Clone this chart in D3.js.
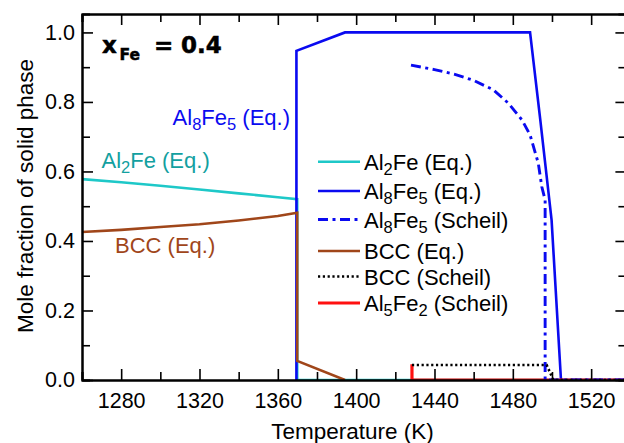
<!DOCTYPE html>
<html>
<head>
<meta charset="utf-8">
<script src="https://cdn.jsdelivr.net/npm/d3@7"></script>
<style>
  body { margin: 0; background: #fff; }
  svg { display: block; }
</style>
</head>
<body>
<div id="chart"></div>
<script>
const width = 624;
const height = 443;
const margin = { left: 82, right: -2.4, top: 14, bottom: 63 };

// temperature (K) and mole fraction for every curve
const al2feEqT = [1260, 1280, 1300, 1320, 1340, 1360, 1369.9, 1369.9, 1538];
const al2feEqF = [0.578, 0.569, 0.559, 0.548, 0.537, 0.526, 0.52, 0, 0];

const al8fe5EqT = [1369.5, 1369.5, 1394.3, 1488.8, 1494, 1499.8, 1504.6, 1538];
const al8fe5EqF = [0, 0.947, 1.0, 1.0, 0.75, 0.46, 0, 0];

const al8fe5ScheilT = [1428, 1440, 1450, 1460, 1470, 1477.6, 1484.7, 1488.8, 1493, 1494.8, 1496.5, 1496.5, 1538];
const al8fe5ScheilF = [0.906, 0.893, 0.88, 0.862, 0.835, 0.797, 0.748, 0.705, 0.624, 0.556, 0.518, 0, 0];

const bccEqT = [1260, 1280, 1300, 1320, 1340, 1360, 1369.9, 1369.9, 1394.3];
const bccEqF = [0.426, 0.432, 0.44, 0.448, 0.459, 0.472, 0.481, 0.055, 0];

const bccScheilT = [1428.5, 1497.3, 1500.7, 1538];
const bccScheilF = [0.043, 0.043, 0, 0];

const al5fe2ScheilT = [1428.5, 1428.5, 1538];
const al5fe2ScheilF = [0.045, 0, 0];

const xTicks = [1280, 1320, 1360, 1400, 1440, 1480, 1520];
const xMinorTicks = [1260, 1300, 1340, 1380, 1420, 1460, 1500];
const yTicks = [0.0, 0.2, 0.4, 0.6, 0.8, 1.0];
const yMinorTicks = [0.1, 0.3, 0.5, 0.7, 0.9];

const legendNames = [
  "Al_2Fe (Eq.)",
  "Al_8Fe_5 (Eq.)",
  "Al_8Fe_5 (Scheil)",
  "BCC (Eq.)",
  "BCC (Scheil)",
  "Al_5Fe_2 (Scheil)",
];

const cyan = "#1ec8c8";
const blue = "#0a0af0";
const brown = "#a0461a";
const red = "#ff1010";

const series = [
  { t: al2feEqT, f: al2feEqF, color: cyan, dash: null, legend: 0 },
  { t: al8fe5EqT, f: al8fe5EqF, color: blue, dash: null, legend: 1 },
  { t: al5fe2ScheilT, f: al5fe2ScheilF, color: red, dash: null, legend: 5, w: 3.2 },
  { t: bccEqT, f: bccEqF, color: brown, dash: null, legend: 3 },
  { t: al8fe5ScheilT, f: al8fe5ScheilF, color: blue, dash: "10,4.5,3,4.5", legend: 2, w: 2.9 },
  { t: bccScheilT, f: bccScheilF, color: "#000", dash: "2.2,2.6", legend: 4 },
];

const fontFamily = "'Liberation Sans', Arial, Helvetica, sans-serif";

// write "Al_8Fe_5" style strings with subscripts
const richText = (sel, str, size) => {
  const parts = str.split(/_(\d)/);
  const sub = size * 0.75;
  const shift = size * 0.24;
  let down = false;
  parts.forEach((p, i) => {
    if (p === "") return;
    const isSub = i % 2 === 1;
    const ts = sel.append("tspan").text(p);
    if (isSub) {
      ts.attr("font-size", sub);
      if (!down) ts.attr("dy", shift);
      down = true;
    } else {
      ts.attr("font-size", size);
      if (down) ts.attr("dy", -shift);
      down = false;
    }
  });
};

const svg = d3
  .select("#chart")
  .append("svg")
  .attr("width", width)
  .attr("height", height)
  .style("font-family", fontFamily);

const x = d3
  .scaleLinear()
  .domain([1260, 1538])
  .range([margin.left, width - margin.right]);

const y = d3
  .scaleLinear()
  .domain([0, 1.053])
  .range([height - margin.bottom, margin.top]);

svg
  .append("defs")
  .append("clipPath")
  .attr("id", "plot-clip")
  .append("rect")
  .attr("x", margin.left)
  .attr("y", margin.top)
  .attr("width", width - margin.right - margin.left)
  .attr("height", height - margin.bottom - margin.top);

const lineGen = d3
  .line()
  .x((d) => x(d[0]))
  .y((d) => y(d[1]));

const linesG = svg.append("g").attr("clip-path", "url(#plot-clip)");

linesG
  .selectAll("path")
  .data(series)
  .join("path")
  .attr("d", (s) => lineGen(s.t.map((t, i) => [t, s.f[i]])))
  .attr("fill", "none")
  .attr("stroke", (s) => s.color)
  .attr("stroke-width", (s) => s.w || 2.6)
  .attr("stroke-dasharray", (s) => s.dash)
  .attr("stroke-linejoin", "miter");

// axes, ticks pointing inwards
const styleAxis = (g) => {
  g.attr("font-family", fontFamily).attr("font-size", 21.5);
  g.select(".domain").attr("stroke", "#000").attr("stroke-width", 2);
  g.selectAll(".tick line").attr("stroke", "#000").attr("stroke-width", 1.6);
  g.selectAll(".tick text").attr("fill", "#000");
};

const bottomY = height - margin.bottom;
const rightX = width - margin.right;

svg
  .append("g")
  .attr("transform", `translate(0,${bottomY})`)
  .call(d3.axisBottom(x).tickValues(xMinorTicks).tickSize(-8).tickFormat(""))
  .call(styleAxis);
svg
  .append("g")
  .attr("transform", `translate(0,${bottomY})`)
  .call(d3.axisBottom(x).tickValues(xTicks).tickSize(-11).tickSizeOuter(0).tickPadding(13).tickFormat(d3.format("d")))
  .call(styleAxis);

svg
  .append("g")
  .attr("transform", `translate(0,${margin.top})`)
  .call(d3.axisTop(x).tickValues(xMinorTicks).tickSize(-8).tickFormat(""))
  .call(styleAxis);
svg
  .append("g")
  .attr("transform", `translate(0,${margin.top})`)
  .call(d3.axisTop(x).tickValues(xTicks).tickSize(-11).tickSizeOuter(0).tickFormat(""))
  .call(styleAxis);

svg
  .append("g")
  .attr("transform", `translate(${margin.left},0)`)
  .call(d3.axisLeft(y).tickValues(yMinorTicks).tickSize(-8).tickFormat(""))
  .call(styleAxis);
svg
  .append("g")
  .attr("transform", `translate(${margin.left},0)`)
  .call(d3.axisLeft(y).tickValues(yTicks).tickSize(-11).tickSizeOuter(0).tickPadding(7).tickFormat(d3.format(".1f")))
  .call(styleAxis);

svg
  .append("g")
  .attr("transform", `translate(${rightX},0)`)
  .call(d3.axisRight(y).tickValues(yMinorTicks).tickSize(-8).tickFormat(""))
  .call(styleAxis);
svg
  .append("g")
  .attr("transform", `translate(${rightX},0)`)
  .call(d3.axisRight(y).tickValues(yTicks).tickSize(-11).tickSizeOuter(0).tickFormat(""))
  .call(styleAxis);

// axis titles
svg
  .append("text")
  .attr("x", 352.5)
  .attr("y", 439)
  .attr("text-anchor", "middle")
  .attr("font-size", 22.5)
  .text("Temperature (K)");

svg
  .append("text")
  .attr("transform", "translate(33,196) rotate(-90)")
  .attr("text-anchor", "middle")
  .attr("font-size", 22.5)
  .text("Mole fraction of solid phase");

// composition label
const comp = svg
  .append("text")
  .attr("font-family", "'DejaVu Sans', sans-serif")
  .attr("font-weight", "bold")
  .attr("fill", "#000")
  .attr("stroke", "#000")
  .attr("stroke-width", 0.5);
comp.append("tspan").attr("x", 102).attr("y", 53.3).attr("font-size", 23).text("x");
comp.append("tspan").attr("x", 119.5).attr("y", 60).attr("font-size", 15.5).text("Fe");
comp.append("tspan").attr("x", 154).attr("y", 53.3).attr("font-size", 23).text("=");
comp.append("tspan").attr("x", 181).attr("y", 53.3).attr("font-size", 23).text("0.4");

// curve labels
svg
  .append("text")
  .attr("x", 290)
  .attr("y", 125)
  .attr("text-anchor", "end")
  .attr("fill", blue)
  .call(richText, "Al_8Fe_5 (Eq.)", 22);

svg
  .append("text")
  .attr("x", 101.5)
  .attr("y", 168)
  .attr("fill", "#12a0a0")
  .call(richText, "Al_2Fe (Eq.)", 22);

svg
  .append("text")
  .attr("x", 115)
  .attr("y", 253)
  .attr("fill", brown)
  .call(richText, "BCC (Eq.)", 22);

// legend
const legendRowY = [161.7, 191, 219.5, 251, 276.5, 303];
const legendItems = legendNames.map((name, i) => ({
  name,
  s: series.find((d) => d.legend === i),
  y: legendRowY[i],
}));

const legendG = svg.append("g");
legendG
  .selectAll("line")
  .data(legendItems)
  .join("line")
  .attr("x1", 318)
  .attr("x2", 360)
  .attr("y1", (d) => d.y)
  .attr("y2", (d) => d.y)
  .attr("stroke", (d) => d.s.color)
  .attr("stroke-width", (d) => d.s.w || 2.6)
  .attr("stroke-dasharray", (d) => d.s.dash);

legendG
  .selectAll("text")
  .data(legendItems)
  .join("text")
  .attr("x", 364)
  .attr("y", (d) => d.y + 8)
  .attr("fill", "#000")
  .each(function (d) {
    d3.select(this).call(richText, d.name, 22);
  });
</script>
</body>
</html>
